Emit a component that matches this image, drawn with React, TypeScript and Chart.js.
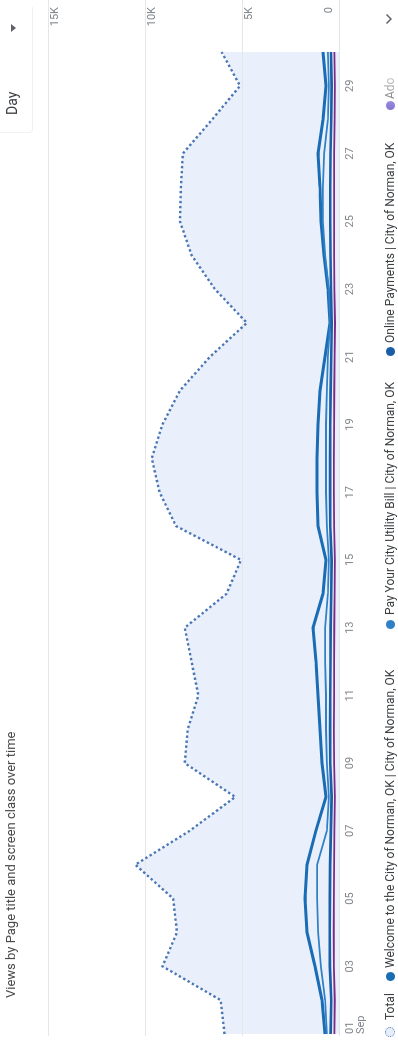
import React, { useEffect, useRef } from "react";
import { Chart, registerables } from "chart.js";

Chart.register(...registerables);

// Days of September shown on the time axis
const dayLabels = [
  "01", "02", "03", "04", "05", "06", "07", "08", "09", "10",
  "11", "12", "13", "14", "15", "16", "17", "18", "19", "20",
  "21", "22", "23", "24", "25", "26", "27", "28", "29", "30",
];
const monthLabel = "Sep";

// Daily views per page
const totalViews = [
  5900, 6100, 9100, 8350, 8550, 10500, 7700, 5350, 7950, 7800,
  7250, 7600, 7950, 5800, 5050, 8400, 9250, 9650, 9100, 8200,
  6650, 4750, 6400, 7600, 8200, 8150, 8050, 6550, 5100, 6050,
];
const welcomeViews = [
  720, 880, 1240, 1650, 1750, 1650, 1190, 670, 880, 980,
  1080, 1190, 1340, 830, 670, 1080, 1130, 1130, 1080, 980,
  720, 460, 570, 770, 930, 980, 1080, 830, 670, 830,
];
const payUtilityViews = [
  620, 720, 930, 1080, 1130, 1130, 620, 520, 620, 670,
  670, 720, 720, 570, 520, 620, 670, 670, 670, 620,
  570, 460, 520, 720, 830, 830, 770, 570, 520, 570,
];
const onlinePaymentsViews = [
  430, 400, 470, 480, 470, 460, 420, 380, 450, 460,
  450, 440, 430, 400, 380, 450, 460, 455, 450, 430,
  400, 370, 410, 440, 450, 450, 440, 400, 380, 410,
];
const adoViews = [
  240, 220, 260, 270, 260, 255, 240, 210, 255, 260,
  255, 250, 245, 225, 215, 255, 260, 260, 255, 245,
  225, 205, 235, 250, 255, 255, 250, 225, 210, 235,
];

const valueTicks = [0, 5000, 10000, 15000];
const valueTickLabels = ["0", "5K", "10K", "15K"];

const seriesNames = [
  "Total",
  "Welcome to the City of Norman, OK | City of Norman, OK",
  "Pay Your City Utility Bill | City of Norman, OK",
  "Online Payments | City of Norman, OK",
  "Ado",
];
const seriesColors = ["#4a76b5", "#1a6db5", "#2f80c6", "#195ea6", "#7b2a86"];

const W = 1047;
const H = 398;

const axisFont = "11px Roboto, 'Noto Sans', sans-serif";
const axisColor = "#80868b";

// Draws the value grid across the full width and the axis labels
const axesOverlay = {
  id: "axesOverlay",
  beforeDatasetsDraw(chart: any) {
    const { ctx, chartArea } = chart;
    const y = chart.scales.y;
    ctx.save();
    ctx.strokeStyle = "#e6e6e6";
    ctx.lineWidth = 1;
    valueTicks.forEach((v) => {
      const py = Math.round(y.getPixelForValue(v)) + 0.5;
      ctx.beginPath();
      ctx.moveTo(chartArea.left - 2, py);
      ctx.lineTo(chart.width, py);
      ctx.stroke();
    });
    ctx.restore();
  },
  afterDraw(chart: any) {
    const { ctx } = chart;
    const x = chart.scales.x;
    const y = chart.scales.y;
    ctx.save();
    ctx.font = axisFont;
    ctx.fillStyle = axisColor;

    // value labels on the right edge
    ctx.textAlign = "right";
    valueTicks.forEach((v, i) => {
      const py = y.getPixelForValue(v);
      if (v === 0) {
        ctx.textBaseline = "bottom";
        ctx.fillText(valueTickLabels[i], 1040, py - 4);
      } else {
        ctx.textBaseline = "top";
        ctx.fillText(valueTickLabels[i], 1040, py + 2);
      }
    });

    // day labels every second day
    ctx.textBaseline = "top";
    const base = y.getPixelForValue(0);
    dayLabels.forEach((d, i) => {
      if (i % 2 !== 0) return;
      const px = x.getPixelForValue(i);
      if (i === 0) {
        ctx.textAlign = "left";
        ctx.fillText(d, px, base + 6);
        ctx.fillText(monthLabel, px, base + 17);
      } else {
        ctx.textAlign = "center";
        ctx.fillText(d, px, base + 6);
      }
    });
    ctx.restore();
  },
};

function LegendDot({ left, color, total }: { left: number; color: string; total?: boolean }) {
  const size = total ? 10 : 9;
  return (
    <span
      style={{
        position: "absolute",
        left: left - size / 2,
        top: 390 - size / 2,
        width: size,
        height: size,
        borderRadius: "50%",
        boxSizing: "border-box",
        background: total ? "#e6eefa" : color,
        border: total ? `1.5px dotted ${color}` : "none",
      }}
    />
  );
}

export default function App() {
  const canvasRef = useRef<HTMLCanvasElement | null>(null);

  useEffect(() => {
    document.body.style.margin = "0";
    document.body.style.overflow = "hidden";
    const canvas = canvasRef.current;
    if (!canvas) return;
    const chart = new Chart(canvas, {
      type: "line",
      data: {
        labels: dayLabels,
        datasets: [
          {
            label: seriesNames[0],
            data: totalViews,
            borderColor: seriesColors[0],
            borderWidth: 2.4,
            borderDash: [2.4, 2.6],
            borderCapStyle: "butt",
            backgroundColor: "#e9f0fb",
            fill: "origin",
            pointRadius: 0,
            tension: 0,
            order: 5,
          },
          {
            label: seriesNames[1],
            data: welcomeViews,
            borderColor: seriesColors[1],
            borderWidth: 3,
            fill: false,
            pointRadius: 0,
            tension: 0,
            order: 4,
          },
          {
            label: seriesNames[2],
            data: payUtilityViews,
            borderColor: seriesColors[2],
            borderWidth: 1.8,
            fill: false,
            pointRadius: 0,
            tension: 0,
            order: 3,
          },
          {
            label: seriesNames[3],
            data: onlinePaymentsViews,
            borderColor: seriesColors[3],
            borderWidth: 2.6,
            fill: false,
            pointRadius: 0,
            tension: 0,
            order: 2,
          },
          {
            label: seriesNames[4],
            data: adoViews,
            borderColor: seriesColors[4],
            borderWidth: 1.8,
            fill: false,
            pointRadius: 0,
            tension: 0,
            order: 1,
          },
        ],
      },
      options: {
        responsive: false,
        animation: false,
        devicePixelRatio: 1,
        events: [],
        layout: { padding: { left: 13, right: 52, top: 48, bottom: 59 } },
        plugins: {
          legend: { display: false },
          tooltip: { enabled: false },
          filler: { drawTime: "beforeDatasetsDraw" },
        } as any,
        scales: {
          x: { type: "category", display: false, offset: false },
          y: { type: "linear", display: false, min: 0, max: 15000 },
        },
      },
      plugins: [axesOverlay],
    });
    return () => chart.destroy();
  }, []);

  const textStyle: React.CSSProperties = {
    position: "absolute",
    top: 383,
    fontSize: 12,
    lineHeight: "14px",
    color: "#3c4043",
    whiteSpace: "nowrap",
  };

  return (
    <div
      style={{
        position: "fixed",
        left: 0,
        top: 0,
        width: W,
        height: H,
        transformOrigin: "0 0",
        transform: `translate(0px, ${W}px) rotate(-90deg)`,
        background: "#ffffff",
        fontFamily: "Roboto, 'Noto Sans', sans-serif",
        overflow: "hidden",
      }}
    >
      <canvas
        ref={canvasRef}
        width={W}
        height={H}
        style={{ position: "absolute", left: 0, top: 0, width: W, height: H }}
      />

      <div
        style={{
          position: "absolute",
          left: 49,
          top: 3,
          fontSize: 13,
          lineHeight: "16px",
          color: "#4a4a4a",
          whiteSpace: "nowrap",
        }}
      >
        Views by Page title and screen class over time
      </div>

      {/* granularity selector */}
      <div
        style={{
          position: "absolute",
          left: 914,
          top: -10,
          width: 126,
          height: 43,
          borderLeft: "1px solid #f1f1f1",
          borderBottom: "1px solid #f1f1f1",
          borderBottomLeftRadius: 4,
          boxSizing: "border-box",
        }}
      />
      <div
        style={{
          position: "absolute",
          left: 932,
          top: 4,
          fontSize: 14,
          lineHeight: "17px",
          color: "#3c4043",
        }}
      >
        Day
      </div>
      <span
        style={{
          position: "absolute",
          left: 1015,
          top: 11,
          width: 0,
          height: 0,
          borderLeft: "4px solid transparent",
          borderRight: "4px solid transparent",
          borderTop: "5px solid #5f6368",
        }}
      />

      {/* legend */}
      <LegendDot left={15} color={seriesColors[0]} total />
      <span style={{ ...textStyle, left: 27 }}>{seriesNames[0]}</span>
      <LegendDot left={70} color={seriesColors[1]} />
      <span style={{ ...textStyle, left: 79 }}>{seriesNames[1]}</span>
      <LegendDot left={422} color={seriesColors[2]} />
      <span style={{ ...textStyle, left: 432 }}>{seriesNames[2]}</span>
      <LegendDot left={695} color={seriesColors[3]} />
      <span style={{ ...textStyle, left: 704 }}>{seriesNames[3]}</span>
      <LegendDot left={941} color="#6a5acd" />
      <span style={{ ...textStyle, left: 948 }}>{seriesNames[4]}</span>
      <div
        style={{
          position: "absolute",
          left: 928,
          top: 378,
          width: 80,
          height: 20,
          background: "linear-gradient(to right, rgba(255,255,255,0) 0%, rgba(255,255,255,0.9) 65%, #ffffff 75%)",
        }}
      />
      {/* legend paging chevron */}
      <svg
        style={{ position: "absolute", left: 1022, top: 385 }}
        width={12}
        height={8}
        viewBox="0 0 12 8"
      >
        <polyline points="1.5,1.5 6,6 10.5,1.5" fill="none" stroke="#5f6368" strokeWidth={1.5} />
      </svg>
    </div>
  );
}
